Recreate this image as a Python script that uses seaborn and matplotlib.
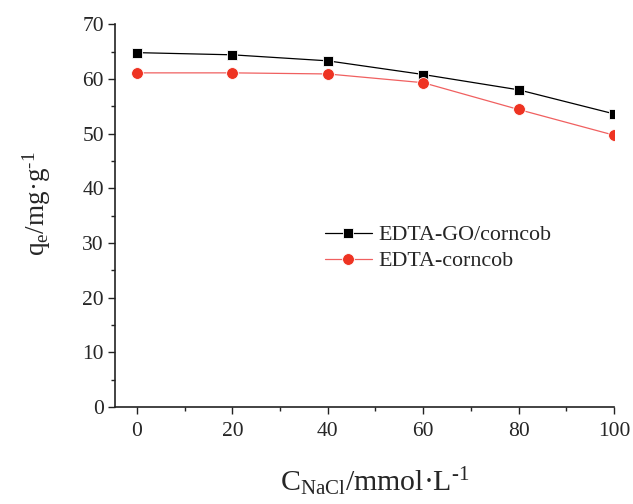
import matplotlib
matplotlib.use("Agg")
import matplotlib.pyplot as plt
import seaborn as sns
import pandas as pd
from matplotlib.ticker import MultipleLocator

conc = [0, 20, 40, 60, 80, 100]
go_corncob = [64.8, 64.4, 63.3, 60.8, 58.0, 53.6]
corncob = [61.1, 61.1, 60.9, 59.3, 54.4, 49.7]
series_names = ["EDTA-GO/corncob", "EDTA-corncob"]

sns.set_theme(style="ticks")
plt.rcParams['font.family'] = ['Liberation Serif', 'DejaVu Serif']
plt.rcParams['mathtext.fontset'] = 'custom'
plt.rcParams['mathtext.rm'] = 'Liberation Serif'
plt.rcParams['mathtext.it'] = 'Liberation Serif:italic'

df = pd.DataFrame({
    "x": conc * 2,
    "y": go_corncob + corncob,
    "s": [series_names[0]] * len(conc) + [series_names[1]] * len(conc),
})

fig = plt.figure(figsize=(6.33, 5.04), dpi=100)
ax = fig.add_axes([0.1817, 0.1925, 0.970 - 0.1817, 0.952 - 0.1925])

sns.lineplot(data=df[df.s == series_names[0]], x="x", y="y", ax=ax, color="black",
             marker="s", markersize=7.5, markeredgecolor="white", markeredgewidth=0.6,
             linewidth=0.9, label=series_names[0])
sns.lineplot(data=df[df.s == series_names[1]], x="x", y="y", ax=ax, color="#ee3333",
             marker="o", markersize=8.5, markeredgecolor="white", markeredgewidth=0.6,
             linewidth=0.9, label=series_names[1])
ax.lines[1].set_color("#f06060")
ax.lines[1].set_markerfacecolor("#ee3322")

ax.set_xlim(-4.6, 100)
ax.set_ylim(0, 70)
ax.xaxis.set_major_locator(MultipleLocator(20))
ax.xaxis.set_minor_locator(MultipleLocator(10))
ax.yaxis.set_major_locator(MultipleLocator(10))
ax.yaxis.set_minor_locator(MultipleLocator(5))
ax.tick_params(which="major", direction="out", length=5, width=1.0, labelsize=15.5, color="#222222")
ax.tick_params(which="minor", direction="out", length=3, width=1.0, color="#222222")
ax.tick_params(axis="x", pad=6)
ax.tick_params(axis="y", pad=3)
for side in ["top", "right"]:
    ax.spines[side].set_visible(False)
for side in ["left", "bottom"]:
    ax.spines[side].set_linewidth(1.2)
    ax.spines[side].set_color("#222222")

ax.set_xlabel(r"C$_{\mathrm{NaCl}}$/mmol·L$^{\text{-}1}$", fontsize=21.5)
ax.xaxis.set_label_coords(0.521, -0.152)
ax.set_ylabel(r"q$_{\mathrm{e}}$/mg·g$^{\text{-}1}$", fontsize=19.5)
ax.yaxis.set_label_coords(-0.125, 0.53)

leg = ax.legend(loc="center left", bbox_to_anchor=(0.403, 0.415), frameon=False,
                fontsize=15.8, handlelength=2.15, handletextpad=0.27, labelspacing=0.25,
                borderaxespad=0)

fig.savefig("out.png", dpi=100)
